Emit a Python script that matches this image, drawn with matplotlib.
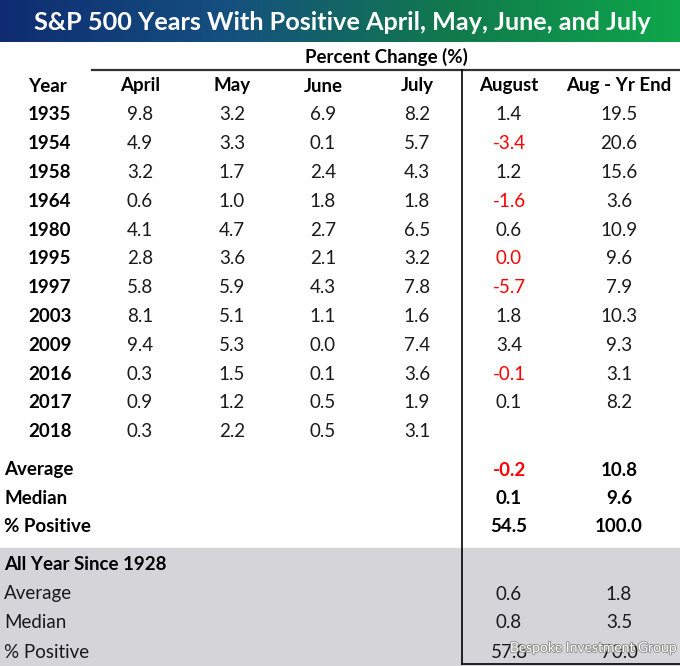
import numpy as np
import matplotlib.pyplot as plt
import matplotlib.patheffects as pe
from matplotlib.colors import LinearSegmentedColormap

plt.rcParams['font.family'] = ['Lato', 'DejaVu Sans']

# table data
title = "S&P 500 Years With Positive April, May, June, and July"
columns = ["Year", "April", "May", "June", "July", "August", "Aug - Yr End"]
years = ["1935", "1954", "1958", "1964", "1980", "1995", "1997", "2003", "2009", "2016", "2017", "2018"]
april = [9.8, 4.9, 3.2, 0.6, 4.1, 2.8, 5.8, 8.1, 9.4, 0.3, 0.9, 0.3]
may = [3.2, 3.3, 1.7, 1.0, 4.7, 3.6, 5.9, 5.1, 5.3, 1.5, 1.2, 2.2]
june = [6.9, 0.1, 2.4, 1.8, 2.7, 2.1, 4.3, 1.1, 0.0, 0.1, 0.5, 0.5]
july = [8.2, 5.7, 4.3, 1.8, 6.5, 3.2, 7.8, 1.6, 7.4, 3.6, 1.9, 3.1]
august = [1.4, -3.4, 1.2, -1.6, 0.6, 0.0, -5.7, 1.8, 3.4, -0.1, 0.1, None]
aug_ye = [19.5, 20.6, 15.6, 3.6, 10.9, 9.6, 7.9, 10.3, 9.3, 3.1, 8.2, None]
# August entries printed in red (negative or flat)
aug_red = ["1954", "1964", "1995", "1997", "2016"]

summary_labels = ["Average", "Median", "% Positive"]
summary_aug = [-0.2, 0.1, 54.5]
summary_ye = [10.8, 9.6, 100.0]

all_label = "All Year Since 1928"
all_labels = ["Average", "Median", "% Positive"]
all_aug = [0.6, 0.8, 57.8]
all_ye = [1.8, 3.5, 70.0]

W, H = 680, 666
fig = plt.figure(figsize=(W / 100, H / 100), dpi=100)
ax = fig.add_axes([0, 0, 1, 1])
ax.set_xlim(0, W)
ax.set_ylim(H, 0)
ax.axis('off')

# title banner with gradient
cmap = LinearSegmentedColormap.from_list('banner', ['#0f2c72', '#15507f', '#117a4c', '#0ea74b'])
grad = np.linspace(0, 1, 256).reshape(1, -1)
ax.imshow(grad, cmap=cmap, aspect='auto', extent=(0, W, 42, 0), zorder=0)
ax.text(342, 23, title, color='white', fontsize=18.2, fontweight='bold',
        ha='center', va='center')

# gray lower section
ax.add_patch(plt.Rectangle((0, 548), W, H - 548, color='#d5d5d9', zorder=0))

# lines
ax.plot([92, W], [70, 70], color='#333333', lw=1.6)
ax.plot([462, 462], [70, 664], color='black', lw=1.2)
ax.plot([462, W], [664, 664], color='black', lw=1.2)

ax.text(386, 57, "Percent Change (%)", fontsize=13.5, fontweight='bold', ha='center', va='center')

txt = '#1a1a1a'
col_x = [28, 140, 232, 323, 417, 509, 619]
fs = 13.5
ax.text(col_x[0], 86, columns[0], fontsize=fs, fontweight='bold', ha='left', va='center')
for x, c in zip(col_x[1:], columns[1:]):
    ax.text(x, 86, c, fontsize=fs, fontweight='bold', ha='center', va='center')

row_y0, row_dy = 115, 28.8
for i, yr in enumerate(years):
    y = row_y0 + i * row_dy
    ax.text(col_x[0], y, yr, fontsize=fs, fontweight='bold', ha='left', va='center')
    for x, v in zip(col_x[1:5], [april[i], may[i], june[i], july[i]]):
        ax.text(x, y, f"{v:.1f}", fontsize=fs, ha='center', va='center', color=txt)
    if august[i] is not None:
        c = 'red' if yr in aug_red else txt
        ax.text(col_x[5], y, f"{august[i]:.1f}", fontsize=fs, ha='center', va='center', color=c)
        ax.text(col_x[6], y, f"{aug_ye[i]:.1f}", fontsize=fs, ha='center', va='center', color=txt)

sum_y = [470, 499, 527]
for y, lab, a, e in zip(sum_y, summary_labels, summary_aug, summary_ye):
    ax.text(4, y, lab, fontsize=fs, fontweight='bold', ha='left', va='center')
    ax.text(col_x[5], y, f"{a:.1f}", fontsize=fs, fontweight='bold', ha='center', va='center',
            color='red' if a < 0 else 'black')
    ax.text(col_x[6], y, f"{e:.1f}", fontsize=fs, fontweight='bold', ha='center', va='center')

ax.text(4, 565, all_label, fontsize=fs, fontweight='bold', ha='left', va='center')
all_y = [594, 623, 652]
for y, lab, a, e in zip(all_y, all_labels, all_aug, all_ye):
    ax.text(4, y, lab, fontsize=fs, ha='left', va='center', color=txt)
    ax.text(col_x[5], y, f"{a:.1f}", fontsize=fs, ha='center', va='center', color=txt)
    ax.text(col_x[6], y, f"{e:.1f}", fontsize=fs, ha='center', va='center', color=txt)

# watermark (sits over the last row, as in the source)
ax.text(677, 648, "Bespoke Investment Group", fontsize=10, color='white', ha='right', va='center',
        path_effects=[pe.withStroke(linewidth=1.2, foreground='#8a8a8a')])

fig.savefig('out.png', dpi=100)
